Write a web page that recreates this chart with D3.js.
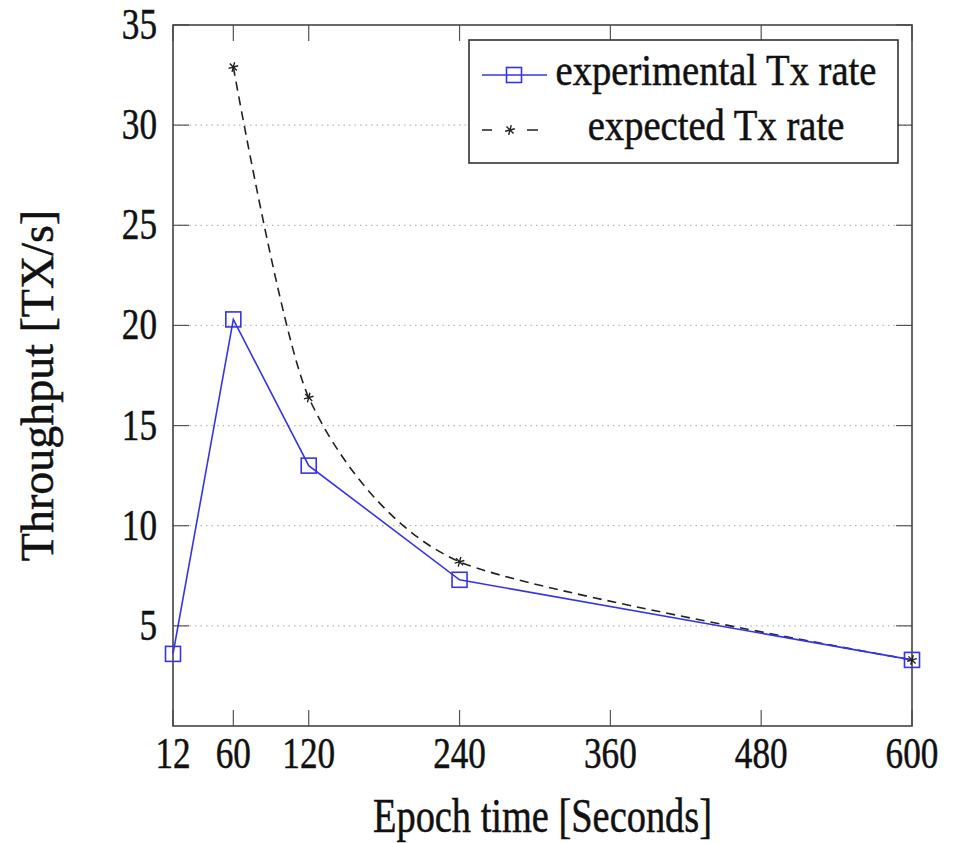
<!DOCTYPE html>
<html>
<head>
<meta charset="utf-8">
<script src="https://cdn.jsdelivr.net/npm/d3@7"></script>
<style>
  body { margin: 0; background: #fff; }
  svg text { font-family: "Liberation Serif", "Times New Roman", serif; fill: #111; stroke: #111; stroke-width: 0.5px; }
</style>
</head>
<body>
<svg id="chart" width="958" height="843"></svg>
<script>
// data
const epochs = [12, 60, 120, 240, 600];
const experimental = [3.6, 20.3, 13.0, 7.3, 3.3];
const expectedEpochs = [60, 120, 240, 600];
const expected = [32.9, 16.4, 8.2, 3.3];
const xTicks = [12, 60, 120, 240, 360, 480, 600];
const yTicks = [5, 10, 15, 20, 25, 30, 35];
const seriesNames = ["experimental Tx rate", "expected Tx rate"];

const margin = {left: 173, right: 46, top: 25, bottom: 117};
const width = 958, height = 843;
const blue = "#3434ee";

const svg = d3.select("#chart");

const x = d3.scaleLinear().domain([12, 600]).range([margin.left, width - margin.right]);
const y = d3.scaleLinear().domain([0, 35]).range([height - margin.bottom, margin.top]);

const x0 = x.range()[0], x1 = x.range()[1];
const y0 = y.range()[0], y1 = y.range()[1];
const tickLen = 16;

// grid
svg.append("g")
    .selectAll("line")
    .data(yTicks.filter(d => d < 35))
    .join("line")
    .attr("x1", x0).attr("x2", x1)
    .attr("y1", d => y(d)).attr("y2", d => y(d))
    .style("stroke", "#b8b8b8")
    .style("stroke-width", 1.2)
    .style("stroke-dasharray", "1.5,4");

// ticks inside, on all four sides
const ticks = svg.append("g").style("stroke", "#555").style("stroke-width", 1.2);
xTicks.forEach(t => {
    ticks.append("line").attr("x1", x(t)).attr("x2", x(t)).attr("y1", y0).attr("y2", y0 - tickLen);
    ticks.append("line").attr("x1", x(t)).attr("x2", x(t)).attr("y1", y1).attr("y2", y1 + tickLen);
});
yTicks.forEach(t => {
    ticks.append("line").attr("y1", y(t)).attr("y2", y(t)).attr("x1", x0).attr("x2", x0 + tickLen);
    ticks.append("line").attr("y1", y(t)).attr("y2", y(t)).attr("x1", x1).attr("x2", x1 - tickLen);
});

// frame
svg.append("rect")
    .attr("x", x0).attr("y", y1)
    .attr("width", x1 - x0).attr("height", y0 - y1)
    .style("fill", "none")
    .style("stroke", "#444")
    .style("stroke-width", 1.6);

// tick labels
svg.append("g")
    .selectAll("text")
    .data(xTicks)
    .join("text")
    .attr("transform", d => `translate(${x(d)},${y0 + 42}) scale(0.8,1)`)
    .attr("text-anchor", "middle")
    .style("font-size", "44px")
    .text(d => d);

svg.append("g")
    .selectAll("text")
    .data(yTicks)
    .join("text")
    .attr("transform", d => `translate(${x0 - 16},${y(d) + 14}) scale(0.8,1)`)
    .attr("text-anchor", "end")
    .style("font-size", "44px")
    .text(d => d);

// axis labels
svg.append("text")
    .attr("transform", `translate(${(x0 + x1) / 2},832) scale(0.8,1)`)
    .attr("text-anchor", "middle")
    .style("font-size", "48px")
    .text("Epoch time [Seconds]");

svg.append("text")
    .attr("transform", `translate(53,${(y0 + y1) / 2 + 10}) rotate(-90)`)
    .attr("text-anchor", "middle")
    .style("font-size", "46px")
    .text("Throughput [TX/s]");

// series
const expLine = d3.line()
    .x((d, i) => x(epochs[i]))
    .y(d => y(d));

const expectedLine = d3.line()
    .x((d, i) => x(expectedEpochs[i]))
    .y(d => y(d))
    .curve(d3.curveCardinal.tension(0.3));

svg.append("path")
    .datum(expected)
    .attr("d", expectedLine)
    .style("fill", "none")
    .style("stroke", "#222")
    .style("stroke-width", 1.6)
    .style("stroke-dasharray", "9,6");

svg.append("path")
    .datum(experimental)
    .attr("d", expLine)
    .style("fill", "none")
    .style("stroke", blue)
    .style("stroke-width", 1.6);

const star = d3.symbol().type(d3.symbolAsterisk).size(70);
svg.append("g")
    .selectAll("path")
    .data(expected)
    .join("path")
    .attr("transform", (d, i) => `translate(${x(expectedEpochs[i])},${y(d)}) rotate(15)`)
    .attr("d", star)
    .style("fill", "none")
    .style("stroke", "#222")
    .style("stroke-width", 1.4);

const sq = 15;
svg.append("g")
    .selectAll("rect")
    .data(experimental)
    .join("rect")
    .attr("x", (d, i) => x(epochs[i]) - sq / 2)
    .attr("y", d => y(d) - sq / 2)
    .attr("width", sq).attr("height", sq)
    .style("fill", "none")
    .style("stroke", blue)
    .style("stroke-width", 1.6);

// legend
const legend = svg.append("g");
legend.append("rect")
    .attr("x", 469).attr("y", 40)
    .attr("width", 429).attr("height", 123)
    .style("fill", "#fff")
    .style("stroke", "#333")
    .style("stroke-width", 1.6);

legend.append("line")
    .attr("x1", 482).attr("x2", 547).attr("y1", 75).attr("y2", 75)
    .style("stroke", blue).style("stroke-width", 1.6);
legend.append("rect")
    .attr("x", 514 - sq / 2).attr("y", 75 - sq / 2)
    .attr("width", sq).attr("height", sq)
    .style("fill", "none").style("stroke", blue).style("stroke-width", 1.6);

legend.append("line")
    .attr("x1", 482).attr("x2", 538).attr("y1", 130).attr("y2", 130)
    .style("stroke", "#222").style("stroke-width", 1.6)
    .style("stroke-dasharray", "10,35,11");
legend.append("path")
    .attr("transform", "translate(510,130) rotate(15)")
    .attr("d", star)
    .style("fill", "none").style("stroke", "#222").style("stroke-width", 1.4);

legend.selectAll("text.name")
    .data(seriesNames)
    .join("text")
    .attr("class", "name")
    .attr("transform", (d, i) => `translate(716,${85 + i * 55}) scale(0.878,1)`)
    .attr("text-anchor", "middle")
    .style("font-size", "44px")
    .text(d => d);
</script>
</body>
</html>
